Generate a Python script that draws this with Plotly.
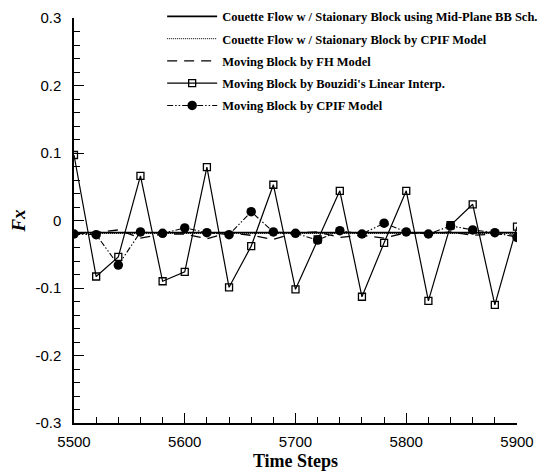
import plotly.graph_objects as go

time_steps = [5500, 5520, 5540, 5560, 5580, 5600, 5620, 5640, 5660, 5680, 5700,
              5720, 5740, 5760, 5780, 5800, 5820, 5840, 5860, 5880, 5900]

couette_bb = [-0.018, -0.018, -0.018, -0.018, -0.018, -0.018, -0.018, -0.018, -0.018, -0.018, -0.018,
              -0.018, -0.018, -0.018, -0.018, -0.018, -0.018, -0.018, -0.018, -0.018, -0.018]
couette_cpif = [-0.019, -0.019, -0.019, -0.019, -0.019, -0.019, -0.019, -0.019, -0.019, -0.019, -0.019,
                -0.019, -0.019, -0.019, -0.019, -0.019, -0.019, -0.019, -0.019, -0.019, -0.019]
moving_fh = [-0.020, -0.018, -0.014, -0.026, -0.020, -0.020, -0.027, -0.018, -0.022, -0.028, -0.018,
             -0.017, -0.025, -0.022, -0.026, -0.018, -0.020, -0.017, -0.022, -0.020, -0.022]
moving_bouzidi = [0.097, -0.083, -0.054, 0.066, -0.090, -0.076, 0.079, -0.099, -0.038, 0.053, -0.102,
                  -0.028, 0.044, -0.113, -0.033, 0.044, -0.119, -0.007, 0.024, -0.125, -0.009]
moving_cpif = [-0.020, -0.021, -0.066, -0.017, -0.019, -0.011, -0.018, -0.021, 0.013, -0.017, -0.019,
               -0.029, -0.015, -0.020, -0.004, -0.017, -0.020, -0.008, -0.014, -0.018, -0.025]

series_names = [
    "Couette Flow w / Staionary Block using Mid-Plane BB Sch.",
    "Couette Flow w / Staionary Block by CPIF Model",
    "Moving Block by FH Model",
    "Moving Block by Bouzidi's Linear Interp.",
    "Moving Block by CPIF Model",
]

y_tickvals = [-0.3, -0.2, -0.1, 0, 0.1, 0.2, 0.3]
y_ticktext = ["-0.3", "-0.2", "-0.1", "0", "0.1", "0.2", "0.3"]
x_tickvals = [5500, 5600, 5700, 5800, 5900]

fig = go.Figure()

fig.add_trace(go.Scatter(x=time_steps, y=couette_bb, mode="lines", name=series_names[0],
                         legendgroup="a", line=dict(color="black", width=1.6)))
fig.add_trace(go.Scatter(x=time_steps, y=couette_cpif, mode="lines", name=series_names[1],
                         legendgroup="b", line=dict(color="black", width=1, dash="1px,1px")))
fig.add_trace(go.Scatter(x=time_steps, y=moving_fh, mode="lines", name=series_names[2],
                         legendgroup="c", line=dict(color="black", width=1.3, dash="10px,7px")))
fig.add_trace(go.Scatter(x=time_steps, y=moving_bouzidi, mode="lines+markers", name=series_names[3],
                         legendgroup="d", line=dict(color="black", width=1.2),
                         marker=dict(symbol="square-open", size=7, color="black",
                                     line=dict(color="black", width=1.3))))
fig.add_trace(go.Scatter(x=time_steps, y=moving_cpif, mode="lines+markers", name=series_names[4],
                         legendgroup="e",
                         line=dict(color="black", width=1.1, dash="6px,2px,1.5px,2px,1.5px,2px"),
                         marker=dict(symbol="circle", size=9.5, color="black")))

fig.update_layout(
    width=542, height=472,
    margin=dict(l=74, r=25, t=18, b=49, autoexpand=False),
    paper_bgcolor="white", plot_bgcolor="white",
    font=dict(family="Liberation Sans, Arial", color="black", size=15),
    legend=dict(
        x=0.199, y=1.04, xanchor="left", yanchor="top",
        bgcolor="rgba(0,0,0,0)",
        font=dict(family="Liberation Serif, Times New Roman", size=12.5, color="black", weight="bold"),
        tracegroupgap=3,
        itemwidth=50,
    ),
    xaxis=dict(
        range=[5500, 5900], tickvals=x_tickvals,
        showline=True, linecolor="black", linewidth=1.5, mirror=False,
        showgrid=False, zeroline=False,
        ticks="inside", ticklen=10, tickwidth=1.2, tickcolor="black",
        minor=dict(dtick=20, ticks="inside", ticklen=6, tickwidth=1, tickcolor="black", showgrid=False),
        ticklabelstandoff=4,
        title=dict(text="Time Steps", standoff=6,
                   font=dict(family="Liberation Serif, Times New Roman", size=18, weight="bold")),
    ),
    yaxis=dict(
        range=[-0.3, 0.3], tickvals=y_tickvals, ticktext=y_ticktext,
        showline=True, linecolor="black", linewidth=1.5, mirror=False,
        showgrid=False, zeroline=False,
        ticks="inside", ticklen=10, tickwidth=1.2, tickcolor="black",
        minor=dict(tickvals=[round(-0.3 + 0.02 * i, 2) for i in range(31)], ticks="inside",
                   ticklen=6, tickwidth=1, tickcolor="black", showgrid=False),
        ticklabelstandoff=8,
        title=dict(text="<i>Fx</i>", standoff=5,
                   font=dict(family="Liberation Serif, Times New Roman", size=19, weight="bold")),
    ),
)

fig.write_html("out.html")
